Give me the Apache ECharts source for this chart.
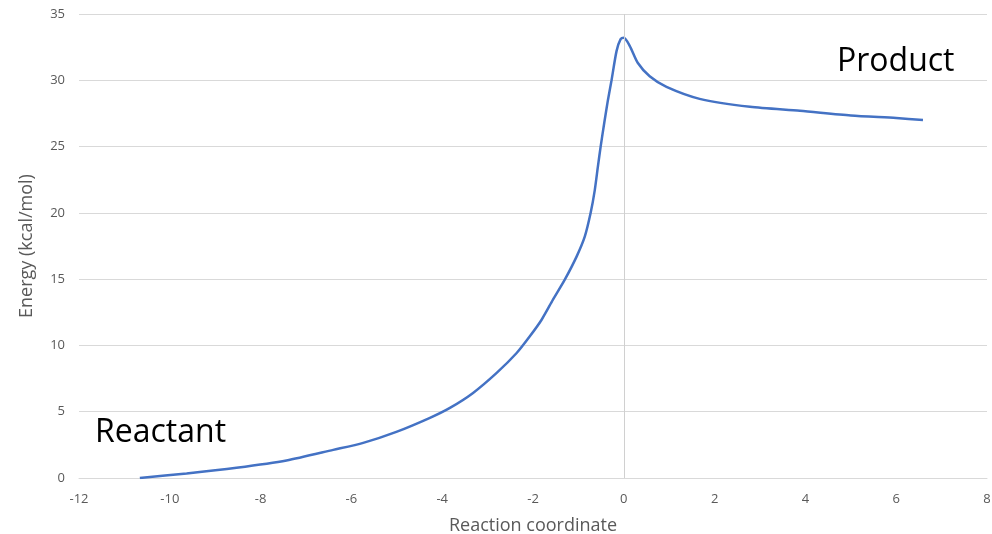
<!DOCTYPE html>
<html>
<head>
<meta charset="utf-8">
<script src="https://cdn.jsdelivr.net/npm/echarts@6/dist/echarts.min.js"></script>
<style>
  html, body { margin: 0; padding: 0; background: #fff; }
  #chart { width: 992px; height: 534px; }
</style>
</head>
<body>
<div id="chart"></div>
<script>
// reaction coordinate vs energy
const coordX = [-10.66, -9.63, -8.53, -7.43, -6.4, -5.74, -5.01, -4.27, -3.83, -3.32, -2.8, -2.36, -2.07,
  -1.81, -1.56, -1.3, -1.04, -0.86, -0.73, -0.64, -0.57, -0.51, -0.43, -0.35, -0.27, -0.16, -0.07, 0,
  0.13, 0.31, 0.57, 0.94, 1.67, 2.78, 3.88, 5, 6, 6.59];
const energy = [0, 0.34, 0.77, 1.32, 2.12, 2.65, 3.48, 4.54, 5.29, 6.42, 7.93, 9.43, 10.69,
  11.94, 13.45, 14.96, 16.7, 18.2, 20.0, 21.7, 23.5, 25.0, 26.8, 28.5, 30.0, 32.2, 33.1, 33.2,
  32.6, 31.3, 30.3, 29.5, 28.6, 28.0, 27.7, 27.35, 27.15, 27.0];
const xTicks = [-12, -10, -8, -6, -4, -2, 0, 2, 4, 6, 8];
const yTicks = [0, 5, 10, 15, 20, 25, 30, 35];

const points = coordX.map((x, i) => [x, energy[i]]);
const font = 'Open Sans';

const myChart = echarts.init(document.getElementById('chart'));
myChart.setOption({
  animation: false,
  textStyle: { fontFamily: font },
  grid: { left: 79, right: 5, top: 14, bottom: 56, outerBoundsMode: 'none', containLabel: false },
  xAxis: {
    type: 'value',
    min: xTicks[0],
    max: xTicks[xTicks.length - 1],
    interval: 2,
    name: 'Reaction coordinate',
    nameLocation: 'middle',
    nameGap: 39,
    nameTextStyle: { color: '#595959', fontSize: 18 },
    axisLine: { show: true, onZero: false, lineStyle: { color: '#d9d9d9', width: 1 } },
    axisTick: { show: false },
    axisLabel: { color: '#595959', fontSize: 13, margin: 15 },
    splitLine: { show: false },
  },
  yAxis: {
    type: 'value',
    min: yTicks[0],
    max: yTicks[yTicks.length - 1],
    interval: 5,
    name: 'Energy (kcal/mol)',
    nameLocation: 'middle',
    nameGap: 43,
    nameTextStyle: { color: '#595959', fontSize: 18 },
    axisLine: { show: false },
    axisTick: { show: false },
    axisLabel: { color: '#595959', fontSize: 13, margin: 14 },
    splitLine: { lineStyle: { color: '#d9d9d9', width: 1 } },
  },
  graphic: [
    { type: 'text', left: 95, top: 417, style: { text: 'Reactant', font: '32px "Open Sans"', fill: '#000' } },
    { type: 'text', left: 837, top: 46, style: { text: 'Product', font: '32px "Open Sans"', fill: '#000' } },
  ],
  series: [
    {
      type: 'line',
      data: points,
      smooth: 0.25,
      showSymbol: false,
      lineStyle: { color: '#4472c4', width: 2.5 },
      markLine: {
        silent: true,
        symbol: 'none',
        label: { show: false },
        lineStyle: { color: '#d0d0d0', width: 1, type: 'solid' },
        data: [{ xAxis: 0 }],
      },
    },
  ],
});
</script>
</body>
</html>
